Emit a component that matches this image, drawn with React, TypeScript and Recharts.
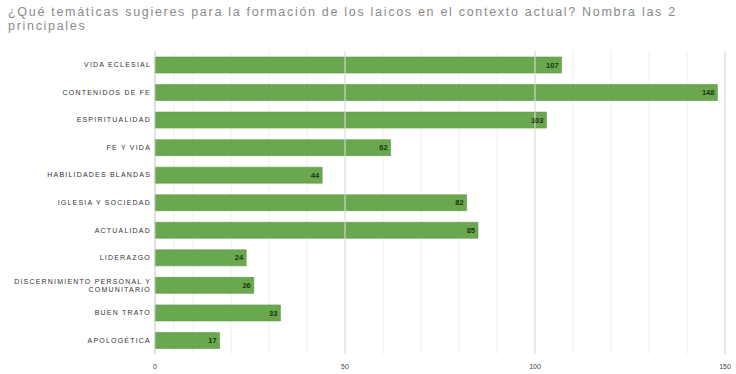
import React from "react";
import {
  BarChart,
  Bar,
  XAxis,
  YAxis,
  CartesianGrid,
  LabelList,
  ReferenceLine,
} from "recharts";

const categories = [
  "VIDA ECLESIAL",
  "CONTENIDOS DE FE",
  "ESPIRITUALIDAD",
  "FE Y VIDA",
  "HABILIDADES BLANDAS",
  "IGLESIA Y SOCIEDAD",
  "ACTUALIDAD",
  "LIDERAZGO",
  "DISCERNIMIENTO PERSONAL Y COMUNITARIO",
  "BUEN TRATO",
  "APOLOGÉTICA",
];
const values = [107, 148, 103, 62, 44, 82, 85, 24, 26, 33, 17];
const gridTicks = [
  0, 5, 10, 15, 20, 25, 30, 35, 40, 45, 50, 55, 60, 65, 70, 75, 80, 85, 90, 95,
  100, 105, 110, 115, 120, 125, 130, 135, 140, 145, 150,
];
const labelTicks = [0, 50, 100, 150];
const majorLines = [50, 100, 150];

const data = categories.map((c, i) => ({ name: c, value: values[i] }));

const wrapLines: Record<string, string[]> = {
  "DISCERNIMIENTO PERSONAL Y COMUNITARIO": [
    "DISCERNIMIENTO PERSONAL Y",
    "COMUNITARIO",
  ],
};

const CategoryTick = (props: any) => {
  const { x, y, payload } = props;
  const lines = wrapLines[payload.value] || [payload.value];
  const lh = 8;
  const start = -((lines.length - 1) * lh) / 2;
  return (
    <text
      x={x}
      y={y}
      textAnchor="end"
      fontSize={7}
      fill="#333"
      letterSpacing={1.2}
      fontFamily="Liberation Sans, Arial, sans-serif"
    >
      {lines.map((l: string, i: number) => (
        <tspan key={i} x={x} dy={i === 0 ? start + 2.5 : lh}>
          {l}
        </tspan>
      ))}
    </text>
  );
};

export default function App() {
  return (
    <div
      style={{
        position: "absolute",
        top: 0,
        left: 0,
        width: 736,
        height: 374,
        background: "#fff",
      }}
    >
      <div
        style={{
          position: "absolute",
          left: 8,
          top: 5,
          fontFamily: "Liberation Sans, Arial, sans-serif",
          fontSize: 12.5,
          lineHeight: "14px",
          letterSpacing: 1.7,
          color: "#8a8a8a",
          whiteSpace: "nowrap",
        }}
      >
        ¿Qué temáticas sugieres para la formación de los laicos en el contexto
        actual? Nombra las 2
        <br />
        principales
      </div>
      <BarChart
        width={736}
        height={374}
        data={data}
        layout="vertical"
        margin={{ top: 51, right: 11, bottom: 0, left: 0 }}
        style={{ position: "absolute", top: 0, left: 0 }}
      >
        <CartesianGrid
          horizontal={false}
          stroke="#eeeeee"
          verticalValues={gridTicks}
        />
        {majorLines.map((v) => (
          <ReferenceLine key={v} x={v} stroke="#dcdcdc" />
        ))}
        <XAxis
          type="number"
          domain={[0, 150]}
          ticks={labelTicks}
          axisLine={false}
          tickLine={false}
          tickMargin={4}
          height={20}
          tick={{
            fontSize: 7,
            fill: "#444",
            fontFamily: "Liberation Sans, Arial, sans-serif",
          }}
        />
        <YAxis
          type="category"
          dataKey="name"
          width={155}
          tickLine={false}
          tickSize={0}
          tickMargin={4}
          axisLine={{ stroke: "#cccccc" }}
          tick={<CategoryTick />}
          interval={0}
        />
        <Bar
          dataKey="value"
          fill="#6aa84f"
          stroke="#5f9646"
          strokeWidth={0.6}
          barSize={16}
          isAnimationActive={false}
        >
          <LabelList
            dataKey="value"
            position="insideRight"
            offset={3}
            style={{
              fontSize: 7.5,
              fontWeight: "bold",
              fill: "#1c3310",
              fontFamily: "Liberation Sans, Arial, sans-serif",
            }}
          />
        </Bar>
      </BarChart>
    </div>
  );
}
